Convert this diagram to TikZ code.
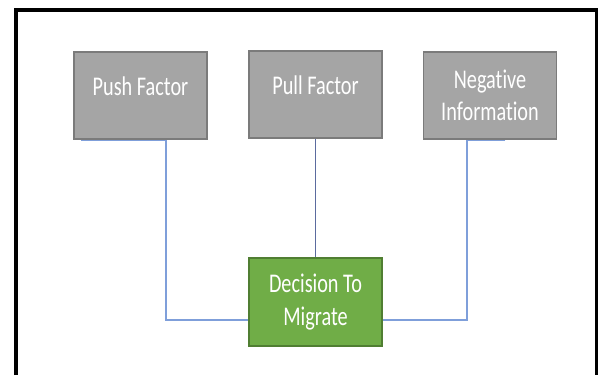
\documentclass[tikz,border=0pt]{standalone}
\usepackage{fontspec}
\setmainfont{Carlito}[FakeStretch=0.75,Ligatures=NoCommon]
\usetikzlibrary{calc}
\definecolor{boxgray}{HTML}{A5A5A5}
\definecolor{edgegray}{HTML}{7B7B7B}
\definecolor{boxgreen}{HTML}{70AD47}
\definecolor{edgegreen}{HTML}{507E32}
\definecolor{linkblue}{HTML}{7F9FDA}
\definecolor{linkdark}{HTML}{5B6B9E}

\begin{document}
\begin{tikzpicture}[x=1pt,y=-1pt,
	factor/.style={draw=edgegray,fill=boxgray,line width=1.5pt,minimum width=133pt,minimum height=87pt,inner sep=0pt,
		text=white,align=center,font=\fontsize{27}{32.6}\selectfont},
	decision/.style={factor,draw=edgegreen,fill=boxgreen,minimum height=88pt},
	link/.style={draw=linkblue,line width=1.4pt},
	frameline/.style={line width=4pt}]
			\useasboundingbox (0,0) rectangle (599,375);
			\draw[frameline] (16,375) -- (16,10) -- (597,10); \draw[line width=2.7pt] (596.3,8) -- (596.3,375);
			
			\node[factor] (push) at (140.5,95.5) {\raisebox{5pt}[14pt][4pt]{Push Factor}};
			\node[factor] (pull) at (315.5,94.5) {\raisebox{5pt}[14pt][4pt]{Pull Factor}};
			\node[factor] (neg) at (490,95.5) {Negative\\Information};
			\node[decision] (mig) at (315.5,302) {Decision To\\Migrate};
			
			\coordinate (pushfoot) at ($(push.south west)+(8,1)$); \coordinate (pushbend) at (166,320);
			\coordinate (negfoot) at ($(neg.south east)+(-52,1)$); \coordinate (negbend) at (467,320);
			
			\draw[link] (pushfoot) -| (pushbend) -- (pushbend -| mig.west);
			\draw[link,draw=linkdark,line width=1pt] (pull.south) -- (mig.north);
			\draw[link] (negfoot) -| (negbend) -- (negbend -| mig.east);
			\end{tikzpicture}
\end{document}
